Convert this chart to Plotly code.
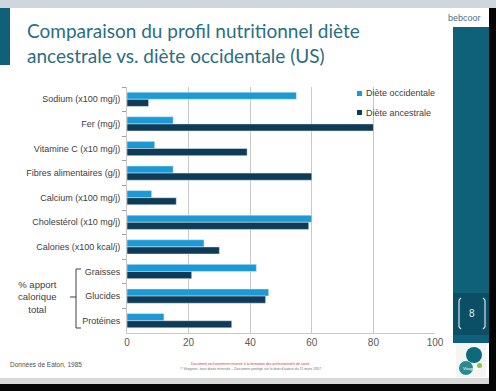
import plotly.graph_objects as go

categories = ["Sodium (x100 mg/j)", "Fer (mg/j)", "Vitamine C (x10 mg/j)",
              "Fibres alimentaires (g/j)", "Calcium (x100 mg/j)",
              "Cholestérol (x10 mg/j)", "Calories (x100 kcal/j)",
              "Graisses", "Glucides", "Protéines"]
occidentale = [55, 15, 9, 15, 8, 60, 25, 42, 46, 12]
ancestrale = [7, 80, 39, 60, 16, 59, 30, 21, 45, 34]
x_ticks = [0, 20, 40, 60, 80, 100]
series_names = ["Diète occidentale", "Diète ancestrale"]

C_OCC = "#1b9ad6"
C_ANC = "#0e3c58"
TEAL = "#0f6079"

fig = go.Figure()
fig.add_trace(go.Bar(y=categories, x=occidentale, orientation="h",
                     name=series_names[0], marker_color=C_OCC, showlegend=False))
fig.add_trace(go.Bar(y=categories, x=ancestrale, orientation="h",
                     name=series_names[1], marker_color=C_ANC, showlegend=False))

W, H = 496, 391
L, R, T, B = 127, 61, 87, 58
PW = W - L - R
PH = H - T - B


def sx(x):
    return (x - L) / PW


def sy(y):
    return (H - B - y) / PH


def rect(x0, y0, x1, y1, color, layer="below"):
    return dict(type="rect", xref="paper", yref="paper", layer=layer,
                x0=sx(x0), x1=sx(x1), y0=sy(y1), y1=sy(y0),
                line_width=0, fillcolor=color)


def line(x0, y0, x1, y1, color, w=1):
    return dict(type="line", xref="paper", yref="paper",
                x0=sx(x0), x1=sx(x1), y0=sy(y0), y1=sy(y1),
                line=dict(color=color, width=w))


shapes = [
    rect(0, 0, 496, 8, "#cfd6de"),
    rect(0, 8, 10, 65, TEAL),
    rect(453, 27, 489, 343, TEAL),
    rect(453, 293, 489, 335, "#0b4f66"),
    rect(489, 8, 496, 391, "#050505", "above"),
    rect(456, 343, 486, 377, "#f4f6f6"),
    rect(0, 378, 489, 384, "#d8d8d8"),
    rect(0, 384, 496, 391, "#050505", "above"),
    # bracket
    line(76, 269, 76, 328, "#404040", 1),
    line(76, 269, 81, 269, "#404040", 1),
    line(76, 328, 81, 328, "#404040", 1),
    line(70, 297, 76, 297, "#404040", 1),
    # slide number bracket
    line(461, 298, 459, 300, "#d8e4ea", 1.2),
    line(459, 300, 459, 327, "#d8e4ea", 1.2),
    line(459, 327, 461, 329, "#d8e4ea", 1.2),
    line(483, 298, 485, 300, "#d8e4ea", 1.2),
    line(485, 300, 485, 327, "#d8e4ea", 1.2),
    line(485, 327, 483, 329, "#d8e4ea", 1.2),
    # legend swatches
    rect(357, 91, 362, 96, C_OCC, "above"),
    rect(357, 110, 362, 115, C_ANC, "above"),
]
# logo circles
shapes.append(dict(type="circle", xref="paper", yref="paper", layer="above",
                   x0=sx(466), x1=sx(482), y0=sy(363), y1=sy(347),
                   fillcolor="#0d6a7a", line_width=0))
shapes.append(dict(type="circle", xref="paper", yref="paper", layer="above",
                   x0=sx(459), x1=sx(473), y0=sy(375), y1=sy(361),
                   fillcolor="#2a8a8f", line_width=0))
shapes.append(dict(type="circle", xref="paper", yref="paper", layer="above",
                   x0=sx(477), x1=sx(482), y0=sy(368), y1=sy(363),
                   fillcolor="#8bc34a", line_width=0))

annotations = [
    dict(text="Comparaison du profil nutritionnel diète<br>ancestrale vs. diète occidentale (US)",
         xref="paper", yref="paper", x=sx(25), y=sy(17), xanchor="left", yanchor="top",
         align="left", showarrow=False,
         font=dict(family="Lato", size=19, color="#2a6e80")),
    dict(text="% apport<br>calorique<br>total", xref="paper", yref="paper",
         x=sx(37), y=sy(297), xanchor="center", yanchor="middle", align="center",
         showarrow=False, font=dict(family="Liberation Sans", size=9.5, color="#404040")),
    dict(text="Données de Eaton, 1985", xref="paper", yref="paper",
         x=sx(8), y=sy(364), xanchor="left", yanchor="middle", showarrow=False,
         font=dict(family="Liberation Sans", size=6.5, color="#505050")),
    dict(text="Document exclusivement réservé à la formation des professionnels de santé",
         xref="paper", yref="paper", x=sx(250), y=sy(364), xanchor="center", yanchor="middle",
         showarrow=False, font=dict(family="Liberation Sans", size=3.5, color="#e03040")),
    dict(text="© Vitagenic, tous droits réservés – Document protégé sur le droit d'auteur du 11 mars 1957",
         xref="paper", yref="paper", x=sx(250), y=sy(369), xanchor="center", yanchor="middle",
         showarrow=False, font=dict(family="Liberation Sans", size=3.5, color="#707070")),
    dict(text="8", xref="paper", yref="paper", x=sx(472), y=sy(313), xanchor="center",
         yanchor="middle", showarrow=False,
         font=dict(family="Liberation Sans", size=10, color="#e0eaee")),
    dict(text="bebcoor", xref="paper", yref="paper", x=sx(464), y=sy(18), xanchor="center",
         yanchor="middle", showarrow=False, bgcolor="#ffffff",
         font=dict(family="Liberation Sans", size=9, color="#4a6f8a")),
    dict(text="Vitagenic", xref="paper", yref="paper", x=sx(471), y=sy(368), xanchor="center",
         yanchor="middle", showarrow=False,
         font=dict(family="Liberation Sans", size=4, color="#ffffff")),
    dict(text=series_names[0], xref="paper", yref="paper", x=sx(364), y=sy(93.5),
         xanchor="left", yanchor="middle", showarrow=False,
         font=dict(family="Liberation Sans", size=9, color="#404040")),
    dict(text=series_names[1], xref="paper", yref="paper", x=sx(364), y=sy(112.5),
         xanchor="left", yanchor="middle", showarrow=False,
         font=dict(family="Liberation Sans", size=9, color="#404040")),
]

fig.update_layout(
    width=W, height=H,
    margin=dict(l=L, r=R, t=T, b=B, pad=0),
    paper_bgcolor="#ffffff", plot_bgcolor="rgba(0,0,0,0)",
    barmode="group", bargap=0.42, bargroupgap=0,
    showlegend=False,
    shapes=shapes, annotations=annotations,
    font=dict(family="Liberation Sans", color="#404040"),
)
fig.update_xaxes(range=[0, 100], tickvals=x_ticks, showgrid=True, gridcolor="#c8c8c8",
                 gridwidth=1, zeroline=False, showline=True, linecolor="#c8c8c8",
                 tickfont=dict(family="Liberation Sans", size=10, color="#595959"),
                 ticks="", fixedrange=True)
fig.update_yaxes(categoryorder="array", categoryarray=categories, autorange="reversed",
                 showline=True, linecolor="#c8c8c8", ticks="outside", tickson="boundaries",
                 ticklen=4, tickcolor="#a0a0a0", ticklabelstandoff=4,
                 tickfont=dict(family="Liberation Sans", size=9, color="#404040"))

fig.write_html(
    "out.html", config={"displayModeBar": False},
    post_script=("document.documentElement.style.overflow='hidden';"
                 "document.documentElement.style.background='#050505';"
                 "document.body.style.margin='0';document.body.style.overflow='hidden';"
                 "document.body.style.background='#050505';"))
